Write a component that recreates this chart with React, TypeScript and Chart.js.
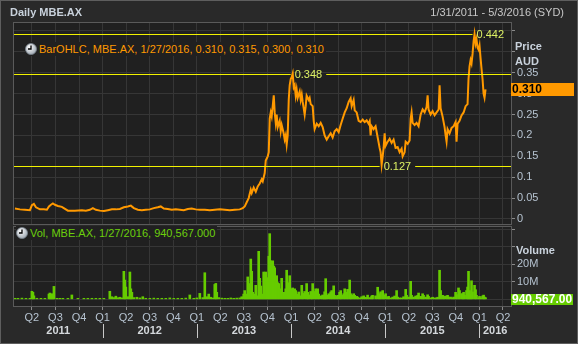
import React, { useEffect, useRef } from 'react';
import { Chart, registerables } from 'chart.js';

Chart.register(...registerables);

// ---------- data (x = decimal year) ----------
const pricePoints: [number, number][] = [
  [2011.070, 0.025], [2011.123, 0.023], [2011.176, 0.022], [2011.229, 0.021], [2011.250, 0.033],
  [2011.271, 0.036], [2011.293, 0.028], [2011.335, 0.023], [2011.377, 0.023], [2011.409, 0.022],
  [2011.431, 0.030], [2011.452, 0.034], [2011.473, 0.037], [2011.494, 0.034], [2011.526, 0.031],
  [2011.568, 0.029], [2011.632, 0.020], [2011.706, 0.020], [2011.781, 0.021], [2011.823, 0.020],
  [2011.865, 0.022], [2011.897, 0.026], [2011.929, 0.022], [2011.971, 0.020], [2012.014, 0.019],
  [2012.056, 0.021], [2012.099, 0.023], [2012.141, 0.023], [2012.184, 0.024], [2012.226, 0.028],
  [2012.268, 0.030], [2012.300, 0.032], [2012.332, 0.026], [2012.374, 0.022], [2012.417, 0.021],
  [2012.459, 0.022], [2012.502, 0.023], [2012.544, 0.026], [2012.586, 0.028], [2012.618, 0.030],
  [2012.650, 0.025], [2012.692, 0.024], [2012.735, 0.022], [2012.777, 0.023], [2012.820, 0.022],
  [2012.862, 0.021], [2012.905, 0.024], [2012.947, 0.025], [2012.989, 0.023], [2013.032, 0.022],
  [2013.085, 0.022], [2013.138, 0.021], [2013.191, 0.022], [2013.244, 0.023], [2013.297, 0.022],
  [2013.350, 0.021], [2013.403, 0.022], [2013.456, 0.023], [2013.488, 0.026], [2013.509, 0.030],
  [2013.530, 0.040], [2013.551, 0.050], [2013.573, 0.070], [2013.583, 0.062], [2013.604, 0.075],
  [2013.626, 0.065], [2013.647, 0.078], [2013.668, 0.085], [2013.689, 0.095], [2013.700, 0.090],
  [2013.721, 0.110], [2013.732, 0.140], [2013.753, 0.150], [2013.764, 0.160], [2013.774, 0.240],
  [2013.785, 0.255], [2013.795, 0.245], [2013.806, 0.270], [2013.817, 0.296], [2013.827, 0.255],
  [2013.838, 0.230], [2013.848, 0.250], [2013.859, 0.220], [2013.880, 0.235], [2013.891, 0.210],
  [2013.901, 0.225], [2013.922, 0.205], [2013.933, 0.190], [2013.944, 0.200], [2013.954, 0.178],
  [2013.965, 0.200], [2013.976, 0.285], [2013.986, 0.320], [2013.997, 0.335], [2014.008, 0.340],
  [2014.018, 0.348], [2014.029, 0.315], [2014.039, 0.320], [2014.050, 0.295], [2014.060, 0.310],
  [2014.071, 0.290], [2014.092, 0.305], [2014.103, 0.285], [2014.114, 0.298], [2014.124, 0.280],
  [2014.135, 0.265], [2014.145, 0.250], [2014.156, 0.270], [2014.166, 0.295], [2014.188, 0.285],
  [2014.198, 0.290], [2014.209, 0.275], [2014.230, 0.270], [2014.241, 0.235], [2014.251, 0.215],
  [2014.273, 0.228], [2014.294, 0.222], [2014.315, 0.230], [2014.336, 0.220], [2014.357, 0.200],
  [2014.379, 0.190], [2014.400, 0.198], [2014.421, 0.205], [2014.442, 0.195], [2014.463, 0.210],
  [2014.485, 0.215], [2014.506, 0.208], [2014.527, 0.225], [2014.548, 0.240], [2014.570, 0.255],
  [2014.591, 0.265], [2014.612, 0.280], [2014.633, 0.289], [2014.644, 0.270], [2014.665, 0.285],
  [2014.676, 0.260], [2014.697, 0.255], [2014.718, 0.235], [2014.739, 0.232], [2014.761, 0.238],
  [2014.782, 0.232], [2014.803, 0.236], [2014.824, 0.228], [2014.835, 0.234], [2014.845, 0.200],
  [2014.856, 0.222], [2014.877, 0.215], [2014.898, 0.222], [2014.920, 0.195], [2014.941, 0.170],
  [2014.951, 0.160], [2014.962, 0.130], [2014.973, 0.150], [2014.983, 0.170], [2014.994, 0.205],
  [2015.004, 0.175], [2015.026, 0.185], [2015.047, 0.192], [2015.068, 0.182], [2015.089, 0.190],
  [2015.110, 0.170], [2015.132, 0.172], [2015.153, 0.160], [2015.174, 0.168], [2015.185, 0.150],
  [2015.206, 0.160], [2015.217, 0.185], [2015.238, 0.180], [2015.259, 0.188], [2015.270, 0.240],
  [2015.280, 0.255], [2015.291, 0.230], [2015.312, 0.225], [2015.333, 0.230], [2015.354, 0.222],
  [2015.376, 0.250], [2015.397, 0.262], [2015.418, 0.255], [2015.439, 0.268], [2015.450, 0.296],
  [2015.460, 0.262], [2015.482, 0.250], [2015.503, 0.258], [2015.524, 0.248], [2015.545, 0.255],
  [2015.567, 0.262], [2015.577, 0.320], [2015.588, 0.265], [2015.609, 0.245], [2015.630, 0.220],
  [2015.641, 0.200], [2015.651, 0.185], [2015.662, 0.215], [2015.683, 0.205], [2015.704, 0.218],
  [2015.726, 0.222], [2015.747, 0.232], [2015.757, 0.185], [2015.768, 0.228], [2015.789, 0.235],
  [2015.810, 0.248], [2015.832, 0.255], [2015.853, 0.270], [2015.874, 0.275], [2015.884, 0.335],
  [2015.895, 0.365], [2015.906, 0.380], [2015.916, 0.372], [2015.927, 0.395], [2015.938, 0.425],
  [2015.948, 0.442], [2015.959, 0.420], [2015.969, 0.430], [2015.980, 0.410], [2015.991, 0.405],
  [2016.001, 0.415], [2016.012, 0.385], [2016.022, 0.360], [2016.033, 0.335], [2016.044, 0.300],
  [2016.054, 0.290], [2016.065, 0.310],
];

// volume in millions
const volumePoints: [number, number][] = [
  [2011.070, 0.6], [2011.102, 0.4], [2011.144, 0.7], [2011.187, 0.5], [2011.229, 0.6], [2011.250, 4.6],
  [2011.261, 4.0], [2011.271, 2.0], [2011.303, 0.6], [2011.346, 0.5], [2011.388, 0.4], [2011.431, 3.0],
  [2011.441, 3.6], [2011.452, 2.8], [2011.463, 3.2], [2011.473, 2.5], [2011.484, 7.4], [2011.516, 0.5],
  [2011.547, 0.4], [2011.579, 0.5], [2011.632, 0.4], [2011.674, 2.5], [2011.738, 0.3], [2011.802, 0.5],
  [2011.844, 0.4], [2011.887, 0.6], [2011.929, 0.4], [2011.971, 0.5], [2012.014, 0.3], [2012.077, 4.6],
  [2012.099, 1.5], [2012.120, 1.0], [2012.141, 1.8], [2012.162, 0.9], [2012.184, 1.2], [2012.205, 0.8],
  [2012.226, 16.0], [2012.236, 11.0], [2012.247, 7.0], [2012.268, 1.5], [2012.290, 15.6], [2012.300, 6.0],
  [2012.311, 4.0], [2012.332, 1.0], [2012.364, 1.2], [2012.396, 0.8], [2012.427, 1.5], [2012.459, 0.6],
  [2012.502, 0.5], [2012.544, 0.7], [2012.586, 0.5], [2012.629, 0.6], [2012.671, 0.4], [2012.714, 0.8],
  [2012.756, 0.5], [2012.799, 0.6], [2012.841, 0.5], [2012.883, 0.7], [2012.926, 2.5], [2012.968, 0.6],
  [2013.000, 0.8], [2013.032, 3.4], [2013.064, 1.0], [2013.085, 15.2], [2013.106, 1.5], [2013.127, 3.0],
  [2013.148, 1.2], [2013.170, 0.8], [2013.191, 8.5], [2013.202, 9.1], [2013.212, 4.0], [2013.233, 1.0],
  [2013.265, 0.7], [2013.297, 0.6], [2013.329, 0.5], [2013.361, 0.8], [2013.392, 0.6], [2013.424, 0.7],
  [2013.456, 0.8], [2013.477, 1.5], [2013.498, 3.0], [2013.509, 5.0], [2013.520, 2.5], [2013.530, 3.0],
  [2013.541, 12.8], [2013.551, 6.0], [2013.562, 9.0], [2013.573, 23.0], [2013.583, 16.0], [2013.594, 4.0],
  [2013.604, 3.0], [2013.615, 2.0], [2013.626, 8.0], [2013.636, 2.0], [2013.647, 1.5], [2013.657, 27.4],
  [2013.668, 12.0], [2013.679, 7.6], [2013.689, 2.0], [2013.700, 3.0], [2013.710, 15.6], [2013.721, 9.0],
  [2013.732, 15.6], [2013.742, 9.5], [2013.753, 12.4], [2013.764, 24.6], [2013.774, 37.5], [2013.785, 22.0],
  [2013.795, 14.0], [2013.806, 22.0], [2013.817, 19.0], [2013.827, 18.0], [2013.838, 10.0], [2013.848, 13.5],
  [2013.859, 9.5], [2013.870, 9.0], [2013.880, 6.0], [2013.891, 5.0], [2013.901, 12.0], [2013.912, 3.0],
  [2013.922, 4.0], [2013.933, 2.0], [2013.944, 6.0], [2013.954, 16.6], [2013.965, 4.0], [2013.976, 9.5],
  [2013.986, 13.5], [2013.997, 4.0], [2014.008, 6.0], [2014.018, 6.5], [2014.029, 3.0], [2014.039, 6.0],
  [2014.050, 5.0], [2014.060, 2.5], [2014.071, 3.0], [2014.082, 4.2], [2014.092, 2.0], [2014.114, 8.0],
  [2014.124, 3.4], [2014.145, 4.5], [2014.166, 9.0], [2014.177, 4.0], [2014.188, 2.5], [2014.209, 4.5],
  [2014.220, 3.0], [2014.230, 9.0], [2014.251, 4.5], [2014.262, 6.0], [2014.283, 6.0], [2014.294, 3.0],
  [2014.315, 2.0], [2014.336, 2.5], [2014.347, 1.8], [2014.357, 4.3], [2014.368, 11.8], [2014.379, 2.3],
  [2014.400, 3.2], [2014.421, 4.2], [2014.432, 5.0], [2014.453, 7.7], [2014.463, 2.3], [2014.485, 1.7],
  [2014.495, 2.3], [2014.516, 4.0], [2014.527, 5.0], [2014.538, 2.3], [2014.559, 3.2], [2014.570, 6.0],
  [2014.591, 4.0], [2014.601, 5.7], [2014.623, 11.0], [2014.633, 3.2], [2014.644, 2.3], [2014.665, 3.2],
  [2014.676, 2.3], [2014.697, 1.7], [2014.707, 1.3], [2014.729, 0.8], [2014.750, 1.5], [2014.771, 2.0],
  [2014.792, 1.2], [2014.813, 2.4], [2014.835, 1.0], [2014.856, 1.9], [2014.866, 2.3], [2014.898, 2.0],
  [2014.920, 6.9], [2014.941, 3.2], [2014.951, 4.3], [2014.973, 5.0], [2014.983, 2.3], [2015.004, 3.2],
  [2015.026, 1.3], [2015.036, 1.7], [2015.057, 0.8], [2015.079, 1.3], [2015.100, 1.9], [2015.121, 5.0],
  [2015.132, 1.3], [2015.153, 0.8], [2015.174, 0.8], [2015.195, 1.5], [2015.217, 5.7], [2015.227, 2.3],
  [2015.248, 1.3], [2015.270, 10.3], [2015.280, 2.3], [2015.301, 1.3], [2015.323, 1.9], [2015.344, 2.3],
  [2015.354, 3.6], [2015.376, 1.7], [2015.397, 3.2], [2015.407, 2.3], [2015.429, 1.3], [2015.450, 2.6],
  [2015.460, 1.7], [2015.482, 0.8], [2015.503, 1.2], [2015.524, 0.8], [2015.545, 0.8], [2015.556, 1.2],
  [2015.577, 16.6], [2015.588, 5.0], [2015.609, 2.3], [2015.620, 1.7], [2015.641, 1.9], [2015.662, 2.3],
  [2015.673, 1.3], [2015.694, 1.3], [2015.715, 0.8], [2015.726, 1.3], [2015.747, 4.0], [2015.757, 2.7],
  [2015.778, 6.5], [2015.789, 5.0], [2015.810, 3.2], [2015.821, 3.2], [2015.832, 4.0], [2015.842, 2.3],
  [2015.863, 5.0], [2015.874, 7.0], [2015.884, 16.0], [2015.895, 5.0], [2015.906, 3.0], [2015.916, 10.6],
  [2015.927, 4.2], [2015.948, 8.0], [2015.959, 5.5], [2015.969, 2.3], [2015.991, 0.8], [2016.001, 1.7],
  [2016.012, 0.8], [2016.033, 1.9], [2016.044, 2.4], [2016.054, 1.3], [2016.065, 0.94],
];

const priceTicks = [0, 0.05, 0.1, 0.15, 0.2, 0.25, 0.3, 0.35, 0.4, 0.45];
const volumeTicks = [0, 10, 20, 30, 40];
const volumeTickLabels = ['', '10M', '20M', '', ''];
const quarterLabels = ['Q1', 'Q2', 'Q3', 'Q4'];
const yearLabels = ['2011', '2012', '2013', '2014', '2015', '2016'];
const markerValues = [0.442, 0.348, 0.127];
const markerDates = [2015.948, 2014.018, 2014.962];
const lastBarDate = '1/27/2016';
const lastBarOHLC = [0.31, 0.315, 0.3, 0.31];
const lastVolume = 0.940567; // millions
const lastVolumeText = '940,567';

// ---------- styling ----------
const X_MIN = 2011.06;
const X_MAX = 2016.335;
const FONT = '"Liberation Sans", Arial, sans-serif';
const OUTER_BG = '#292929';
const PLOT_BG = '#202020';
const GRID = '#363636';
const BORDER = '#5a5a5a';
const TICK = '#b6c3d0';
const TITLE = '#c9d2dc';
const ORANGE = '#ff9900';
const GREEN = '#66cc00';

const quarterTicks: number[] = [];
yearLabels.forEach((ys) => {
  const y = Number(ys);
  for (let q = 0; q < 4; q++) {
    const v = y + q / 4;
    if (v >= X_MIN && v <= X_MAX) quarterTicks.push(v);
  }
});

const panelPlugin = {
  id: 'panel',
  beforeDraw(chart: any) {
    const { ctx, chartArea: a } = chart;
    ctx.save();
    ctx.fillStyle = PLOT_BG;
    ctx.fillRect(a.left, a.top, a.right - a.left, a.bottom - a.top);
    ctx.restore();
  },
  afterDraw(chart: any) {
    const { ctx, chartArea: a } = chart;
    ctx.save();
    ctx.strokeStyle = BORDER;
    ctx.lineWidth = 1;
    ctx.strokeRect(a.left - 0.5, a.top - 0.5, a.right - a.left + 1, a.bottom - a.top + 1);
    ctx.restore();
  },
};

const markerPlugin = {
  id: 'markers',
  afterDatasetsDraw(chart: any) {
    const { ctx, chartArea: a, scales } = chart;
    const x = scales.x, y = scales.y;
    ctx.save();
    ctx.font = `11px ${FONT}`;
    ctx.textBaseline = 'middle';
    markerValues.forEach((v, i) => {
      const py = Math.round(y.getPixelForValue(v)) + 0.5;
      const lx = x.getPixelForValue(markerDates[i]) + 2;
      const label = v.toFixed(3);
      const w = ctx.measureText(label).width;
      ctx.strokeStyle = '#f2f200';
      ctx.lineWidth = 1;
      ctx.beginPath();
      ctx.moveTo(a.left, py);
      ctx.lineTo(lx - 4, py);
      if (lx + w + 12 < a.right) {
        ctx.moveTo(lx + w + 4, py);
        ctx.lineTo(a.right, py);
      }
      ctx.stroke();
      ctx.fillStyle = '#dcf064';
      ctx.fillText(label, lx, py);
    });
    ctx.restore();
  },
};

const priceTagPlugin = {
  id: 'priceTag',
  afterDraw(chart: any) {
    const { ctx, chartArea: a, scales } = chart;
    const py = Math.round(scales.y.getPixelForValue(lastBarOHLC[3]));
    ctx.save();
    ctx.fillStyle = ORANGE;
    ctx.fillRect(a.right, py - 6, 63, 13);
    ctx.fillStyle = '#000';
    ctx.font = `bold 12px ${FONT}`;
    ctx.textBaseline = 'middle';
    ctx.fillText(lastBarOHLC[3].toFixed(3), a.right + 1, py + 1);
    ctx.restore();
  },
};

const volumeTagPlugin = {
  id: 'volTag',
  afterDraw(chart: any) {
    const { ctx, chartArea: a, scales } = chart;
    const py = Math.round(scales.y.getPixelForValue(lastVolume));
    ctx.save();
    ctx.fillStyle = GREEN;
    ctx.fillRect(a.right, py - 4, 62, 11);
    ctx.fillStyle = '#ffffff';
    ctx.font = `bold 12px ${FONT}`;
    ctx.textBaseline = 'middle';
    ctx.fillText(lastVolumeText + '.00', a.right + 1, py + 1.5);
    ctx.restore();
  },
};

const yearPlugin = {
  id: 'years',
  afterDraw(chart: any) {
    const { ctx, chartArea: a, scales } = chart;
    const x = scales.x;
    ctx.save();
    ctx.font = `bold 11px ${FONT}`;
    ctx.textBaseline = 'middle';
    ctx.textAlign = 'center';
    ctx.strokeStyle = '#c8c8c8';
    ctx.lineWidth = 1;
    yearLabels.forEach((ys) => {
      const y = Number(ys);
      if (y >= X_MIN && y <= X_MAX) {
        const px = Math.round(x.getPixelForValue(y)) + 0.5;
        ctx.beginPath();
        ctx.moveTo(px, a.bottom + 18);
        ctx.lineTo(px, a.bottom + 32);
        ctx.stroke();
      }
      const s = Math.max(y, X_MIN);
      const e = Math.min(y + 1, X_MAX);
      if (e > s) {
        const cx = (x.getPixelForValue(s) + x.getPixelForValue(e)) / 2;
        ctx.fillStyle = '#d4d8dc';
        ctx.fillText(ys, cx, a.bottom + 25);
      }
    });
    ctx.restore();
  },
};

function setQuarterTicks(s: any) {
  s.ticks = quarterTicks.map((v) => ({ value: v }));
}

function Clock() {
  return (
    <svg width="12" height="12" viewBox="0 0 12 12" style={{ display: 'block' }}>
      <defs>
        <radialGradient id="cg" cx="40%" cy="35%" r="70%">
          <stop offset="0%" stopColor="#ffffff" />
          <stop offset="100%" stopColor="#9aa4ae" />
        </radialGradient>
      </defs>
      <circle cx="6" cy="6" r="5.5" fill="url(#cg)" stroke="#7a848e" strokeWidth="0.8" />
      <path d="M6 2.5 V6 H3" stroke="#000" strokeWidth="1.3" fill="none" />
    </svg>
  );
}

export default function App() {
  const priceRef = useRef<HTMLCanvasElement>(null);
  const volRef = useRef<HTMLCanvasElement>(null);

  useEffect(() => {
    document.body.style.margin = '0';
    Chart.defaults.font.family = FONT;
    Chart.defaults.font.size = 11;

    const priceChart = new Chart(priceRef.current!, {
      type: 'line',
      data: {
        datasets: [
          {
            data: pricePoints.map(([x, y]) => ({ x, y })),
            borderColor: ORANGE,
            borderWidth: 2,
            pointRadius: 0,
            tension: 0,
          },
        ],
      },
      options: {
        responsive: false,
        animation: false,
        devicePixelRatio: 1,
        events: [],
        layout: { padding: { left: 14, top: 23, right: 0, bottom: 8 } },
        plugins: { legend: { display: false }, tooltip: { enabled: false } },
        scales: {
          x: {
            type: 'linear',
            min: X_MIN,
            max: X_MAX,
            afterBuildTicks: setQuarterTicks,
            ticks: { display: false },
            grid: { color: GRID, drawTicks: false },
            border: { display: false },
            afterFit: (s: any) => {
              s.height = 0;
              s.paddingLeft = 0;
              s.paddingRight = 0;
            },
          },
          y: {
            position: 'right',
            min: -0.012,
            max: 0.469,
            afterBuildTicks: (s: any) => {
              s.ticks = priceTicks.map((v) => ({ value: v }));
            },
            ticks: {
              color: TICK,
              padding: 2,
              autoSkip: false,
              callback: (v: any) => (Number(v) <= 0.351 ? String(v) : ''),
            },
            grid: { color: GRID, tickColor: '#8a8a8a', tickLength: 4 },
            border: { color: BORDER },
            afterFit: (s: any) => {
              s.width = 67;
              s.paddingTop = 0;
              s.paddingBottom = 0;
            },
          },
        },
      } as any,
      plugins: [panelPlugin, markerPlugin, priceTagPlugin],
    });

    const volChart = new Chart(volRef.current!, {
      type: 'bar',
      data: {
        datasets: [
          {
            data: volumePoints.map(([x, y]) => ({ x, y })),
            backgroundColor: GREEN,
            borderWidth: 0,
            barThickness: 2,
            minBarLength: 1,
          },
        ],
      },
      options: {
        responsive: false,
        animation: false,
        devicePixelRatio: 1,
        events: [],
        layout: { padding: { left: 14, top: 2, right: 0, bottom: 0 } },
        plugins: { legend: { display: false }, tooltip: { enabled: false } },
        scales: {
          x: {
            type: 'linear',
            min: X_MIN,
            max: X_MAX,
            offset: false,
            afterBuildTicks: setQuarterTicks,
            ticks: {
              color: TICK,
              padding: 1,
              autoSkip: false,
              maxRotation: 0,
              callback: (v: any) => quarterLabels[Math.round((Number(v) - Math.floor(Number(v))) * 4) % 4],
            },
            grid: { color: GRID, tickColor: '#8a8a8a', tickLength: 4, offset: false },
            border: { color: BORDER },
            afterFit: (s: any) => {
              s.height = 38;
              s.paddingLeft = 0;
              s.paddingRight = 0;
            },
          },
          y: {
            position: 'right',
            min: -3.8,
            max: 41.3,
            afterBuildTicks: (s: any) => {
              s.ticks = volumeTicks.map((v) => ({ value: v }));
            },
            ticks: {
              color: TICK,
              padding: 2,
              autoSkip: false,
              callback: (_v: any, i: number) => volumeTickLabels[i] ?? '',
            },
            grid: { color: GRID, tickColor: '#8a8a8a', tickLength: 4 },
            border: { color: BORDER },
            afterFit: (s: any) => {
              s.width = 67;
              s.paddingTop = 0;
              s.paddingBottom = 0;
            },
          },
        },
      } as any,
      plugins: [panelPlugin, volumeTagPlugin, yearPlugin],
    });

    return () => {
      priceChart.destroy();
      volChart.destroy();
    };
  }, []);

  const abs = (o: React.CSSProperties): React.CSSProperties => ({ position: 'absolute', ...o });
  const txt: React.CSSProperties = { fontFamily: FONT, fontSize: 11, whiteSpace: 'nowrap', lineHeight: '13px' };

  return (
    <div
      style={{
        position: 'fixed',
        left: 0,
        top: 0,
        width: 578,
        height: 344,
        boxSizing: 'border-box',
        background: OUTER_BG,
        border: '1px solid #5e5e5e',
        overflow: 'hidden',
      }}
    >
      <canvas ref={priceRef} width={578} height={232} style={abs({ left: -1, top: -1, width: 578, height: 232 })} />
      <canvas ref={volRef} width={578} height={119} style={abs({ left: -1, top: 224, width: 578, height: 119 })} />

      <div style={abs({ ...txt, left: 9, top: 5, fontWeight: 'bold', color: TITLE })}>Daily MBE.AX</div>
      <div style={abs({ ...txt, right: 13, top: 5, color: '#c8c8c8' })}>1/31/2011 - 5/3/2016 (SYD)</div>

      <div style={abs({ ...txt, left: 514, top: 39, fontWeight: 'bold', color: TITLE })}>Price</div>
      <div style={abs({ ...txt, left: 514, top: 54, fontWeight: 'bold', color: TITLE })}>AUD</div>
      <div style={abs({ ...txt, left: 515, top: 243, fontWeight: 'bold', color: TITLE })}>Volume</div>

      <div
        style={abs({ left: 24, top: 41, height: 14, display: 'flex', alignItems: 'center', background: PLOT_BG, paddingRight: 2 })}
      >
        <Clock />
        <span style={{ ...txt, color: ORANGE, marginLeft: 2 }}>
          {`BarOHLC, MBE.AX, ${lastBarDate}, ${lastBarOHLC.map((v) => v.toFixed(3)).join(', ')}`}
        </span>
      </div>
      <div
        style={abs({ left: 15, top: 225, height: 14, display: 'flex', alignItems: 'center', background: PLOT_BG, paddingRight: 2 })}
      >
        <Clock />
        <span style={{ ...txt, color: '#6ccf0c', marginLeft: 2 }}>{`Vol, MBE.AX, ${lastBarDate}, ${lastVolumeText}.000`}</span>
      </div>
    </div>
  );
}
